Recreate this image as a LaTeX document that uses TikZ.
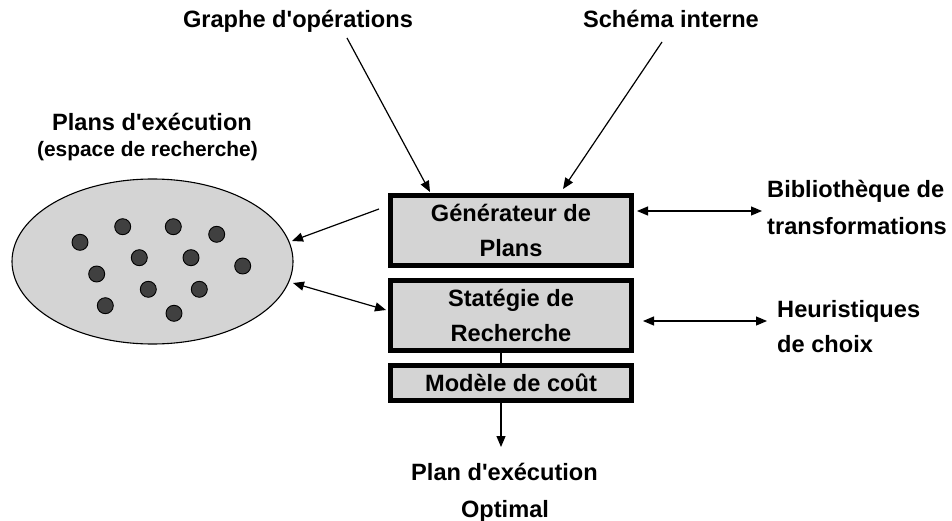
\documentclass[tikz,border=0pt]{standalone}
\usepackage{fontspec}
\setmainfont{Liberation Sans}
\usetikzlibrary{shapes.geometric,arrows.meta}
\definecolor{boxgray}{HTML}{D4D4D4}
\definecolor{dotgray}{HTML}{404040}
\newcommand{\apos}{\textquotesingle}
\begin{document}
\begin{tikzpicture}[x=1pt,y=-1pt,
  bigfont/.style={font=\bfseries\fontsize{23.6}{35}\selectfont},
  smallfont/.style={font=\bfseries\fontsize{20.9}{26}\selectfont},
  blockbox/.style={draw, line width=5pt, fill=boxgray, minimum width=241pt, align=center, inner sep=0pt, bigfont},
  lbl/.style={bigfont, anchor=base, inner sep=0pt},
  lbll/.style={bigfont, anchor=base west, inner sep=0pt},
  conn/.style={line width=1.2pt, -{Triangle[length=11pt,width=9pt]}},
  dconn/.style={line width=1.2pt, {Triangle[length=11pt,width=9pt]}-{Triangle[length=11pt,width=9pt]}},
  dot/.style={circle, draw, line width=0.9pt, fill=dotgray, minimum size=16pt, inner sep=0pt}
]
\useasboundingbox (0,0) rectangle (952,521);

% ellipse
\node[ellipse, draw, line width=1.1pt, fill=boxgray, minimum width=281pt, minimum height=165pt, inner sep=0pt] (ell) at (152.5,261.5) {};
\foreach \px/\py [count=\i] in {80/242.3,122.7/226.7,173.3/226.7,216.7/234.3,139.3/257.7,191/257.7,242.7/266,96.7/274,148.3/289.3,199.3/289.3,105.3/305.7,174/313.3}
  \node[dot] (d\i) at (\px,\py) {};

% boxes
\node[blockbox, minimum height=70pt] (gen) at (511,230.5) {Générateur de\\Plans};
\node[blockbox, minimum height=70pt] (strat) at (511,315.5) {Statégie de\\Recherche};
\node[blockbox, minimum height=35pt] (cout) at (511,383) {Modèle de coût};

% labels
\node[lbl] (graphe) at (298,28) {Graphe d\apos opérations};
\node[lbl] (schema) at (671,28) {Schéma interne};
\node[lbl] (plans) at (152,131) {Plans d\apos exécution};
\node[smallfont, anchor=base, inner sep=0pt] (espace) at (147.5,157) {(espace de recherche)};
\node[lbll] (biblio1) at (767,198) {Bibliothèque de};
\node[lbll] (biblio2) at (767,235) {transformations};
\node[lbll] (heur1) at (777,317) {Heuristiques};
\node[lbll] (heur2) at (777,352) {de choix};
\node[lbl] (plan1) at (504.5,480) {Plan d\apos exécution};
\node[lbl] (plan2) at (505,517) {Optimal};

% connector end points
\coordinate (gA) at (347,38);
\coordinate (gB) at (430,192);
\coordinate (sA) at (662,42);
\coordinate (sB) at (563,189);
\coordinate (e1A) at (379,209);
\coordinate (e1B) at (292,241);
\coordinate (e2A) at (293,283);
\coordinate (e2B) at (386,310);
\coordinate (b1A) at (637,211);
\coordinate (b1B) at (762,211);
\coordinate (h1A) at (643,321);
\coordinate (h1B) at (767,321);
\coordinate (oA) at (501,403);
\coordinate (oB) at (501,447);

\draw[conn] (gA) -- (gB);
\draw[conn] (sA) -- (sB);
\draw[conn] (e1A) -- (e1B);
\draw[dconn] (e2A) -- (e2B);
\draw[dconn] (b1A) -- (b1B);
\draw[dconn] (h1A) -- (h1B);
\draw[line width=1.2pt] (strat.south -| oA) -- (cout.north -| oA);
\draw[conn] (cout.south -| oA) -- (oB);
\end{tikzpicture}
\end{document}
